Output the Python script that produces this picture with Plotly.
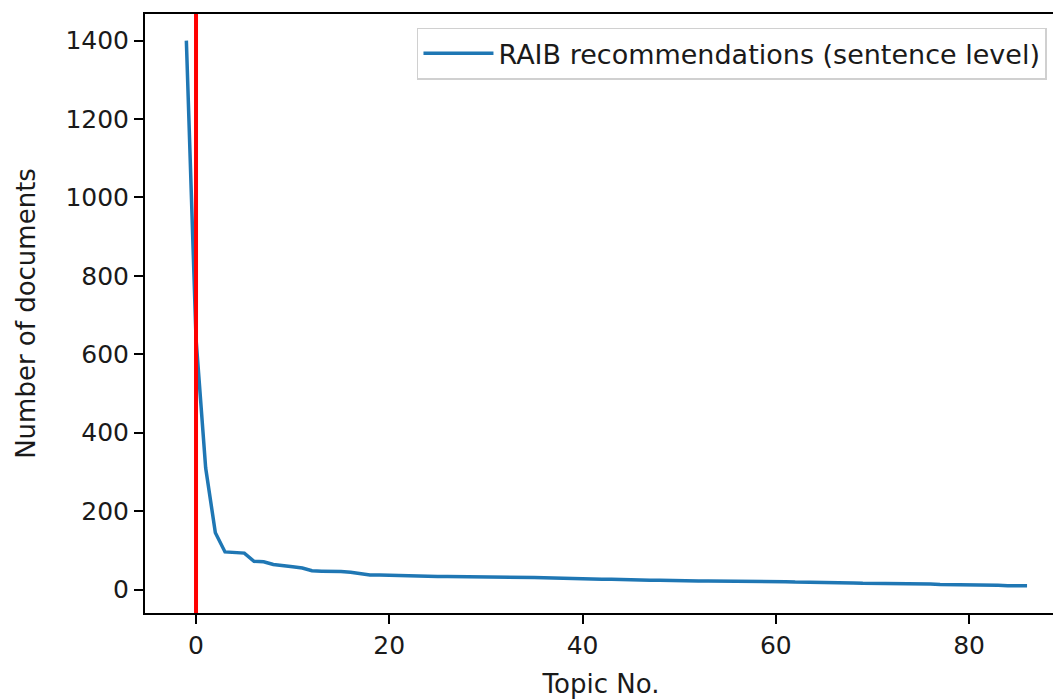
import plotly.graph_objects as go

topics = list(range(-1, 87))
counts = [1400, 640, 310, 145, 96, 94, 93, 72, 71, 64,
          60, 58, 55, 48, 47, 47, 46, 44, 40, 37,
          37, 36, 35, 34, 34, 34, 33, 33, 33, 33,
          32, 32, 32, 32, 32, 31, 31, 30, 29, 28,
          27, 27, 26, 26, 26, 25, 25, 25, 24, 24,
          23, 23, 22, 22, 22, 22, 22, 21, 21, 21,
          21, 20, 20, 19, 19, 19, 18, 18, 17, 17,
          16, 16, 16, 15, 15, 15, 14, 14, 13, 13,
          12, 12, 12, 11, 11, 10, 10, 10]
series_name = "RAIB recommendations (sentence level)"
x_ticks = [0, 20, 40, 60, 80]
y_ticks = [0, 200, 400, 600, 800, 1000, 1200, 1400]
vline_x = 0

FONT = "DejaVu Sans"
TXT = "#1a1a1a"
fig = go.Figure()
fig.add_trace(go.Scatter(x=topics, y=counts, mode="lines", name=series_name,
                         line=dict(color="#1f77b4", width=3.5)))
fig.add_vline(x=vline_x, line=dict(color="#ff0000", width=4), layer="above")

axis_common = dict(showline=True, linecolor="black", linewidth=2, mirror=True,
                   ticks="outside", ticklen=9, tickwidth=2, tickcolor="black",
                   showgrid=False, zeroline=False, automargin=False,
                   tickfont=dict(family=FONT, size=25, color=TXT))
fig.update_xaxes(range=[-5.28, 89.1], tickvals=x_ticks,
                 title=dict(text="Topic No.", font=dict(family=FONT, size=26, color=TXT), standoff=16),
                 **axis_common)
fig.update_yaxes(range=[-59.8, 1468], tickvals=y_ticks,
                 title=dict(text="Number of documents", font=dict(family=FONT, size=26, color=TXT), standoff=22),
                 **axis_common)
# page body has an 8px margin, so the figure is sized/offset to compensate
fig.update_layout(
    width=1053, height=692,
    margin=dict(l=137, r=4, t=6, b=87, autoexpand=False),
    paper_bgcolor="white", plot_bgcolor="white",
    showlegend=True,
    legend=dict(x=0.989, y=0.977, xanchor="right", yanchor="top",
                bgcolor="rgba(255,255,255,0.8)", bordercolor="#d0d0d0", borderwidth=1.5,
                font=dict(family=FONT, size=27, color=TXT), itemwidth=70),
)
fig.write_html("out.html")
